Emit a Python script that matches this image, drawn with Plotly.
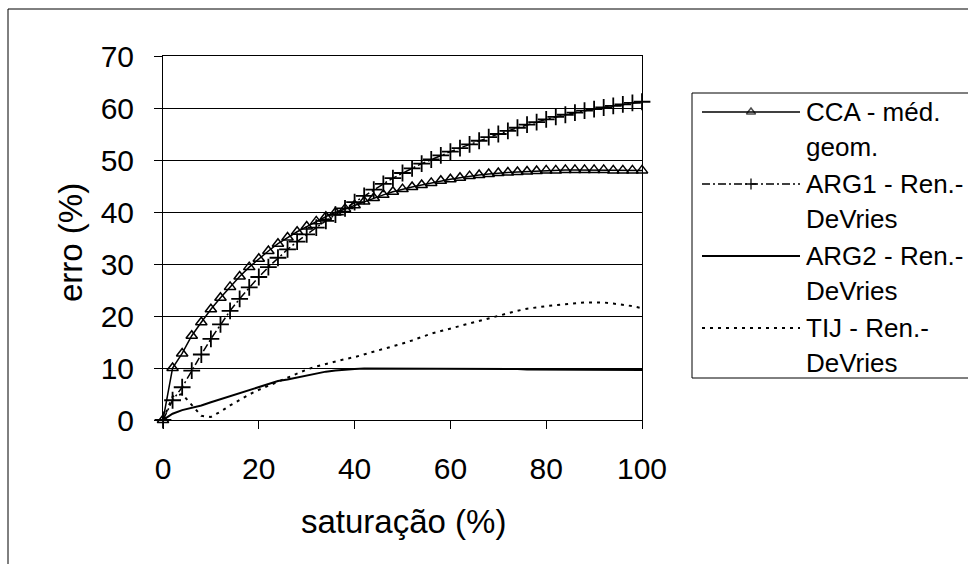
import plotly.graph_objects as go

# Saturation (%) sampled every 2 %
saturacao = list(range(0, 101, 2))

cca_med_geom = [
    0.0, 10.0, 12.8, 16.2, 18.8, 21.3, 23.5, 25.6, 27.6, 29.4,
    31.0, 32.5, 33.9, 35.1, 36.2, 37.2, 38.2, 39.1, 39.9, 40.6,
    41.3, 42.0, 42.7, 43.3, 43.9, 44.4, 44.8, 45.2, 45.6, 46.0,
    46.3, 46.6, 46.9, 47.1, 47.3, 47.5, 47.6, 47.7, 47.8, 47.9,
    48.0, 48.0, 48.1, 48.1, 48.1, 48.1, 48.1, 48.0, 48.0, 48.0,
    48.0,
]
arg1_devries = [
    0.0, 3.8, 6.3, 9.5, 12.6, 15.6, 18.4, 21.0, 23.3, 25.5,
    27.5, 29.4, 31.2, 32.8, 34.3, 35.7, 37.0, 38.3, 39.5, 40.7,
    41.9, 43.1, 44.3, 45.4, 46.5, 47.5, 48.4, 49.3, 50.1, 50.9,
    51.6, 52.3, 53.0, 53.7, 54.4, 55.0, 55.6, 56.2, 56.8, 57.3,
    57.8, 58.3, 58.7, 59.1, 59.5, 59.8, 60.1, 60.4, 60.7, 61.0,
    61.2,
]
arg2_devries = [
    0.0, 1.2, 1.9, 2.3, 2.8, 3.4, 4.0, 4.6, 5.2, 5.8,
    6.4, 7.0, 7.5, 7.8, 8.2, 8.6, 9.0, 9.3, 9.5, 9.7,
    9.8, 9.9, 9.9, 9.9, 9.9, 9.9, 9.9, 9.9, 9.9, 9.9,
    9.9, 9.9, 9.9, 9.9, 9.9, 9.9, 9.8, 9.8, 9.7, 9.7,
    9.7, 9.7, 9.7, 9.7, 9.7, 9.7, 9.7, 9.6, 9.6, 9.6,
    9.6,
]
tij_devries = [
    0.0, 4.5, 5.0, 2.8, 0.8, 0.6, 1.6, 2.8, 3.9, 4.9,
    5.8, 6.6, 7.4, 8.2, 9.0, 9.7, 10.3, 10.8, 11.2, 11.7,
    12.1, 12.6, 13.1, 13.6, 14.1, 14.7, 15.3, 16.0, 16.6, 17.1,
    17.6, 18.1, 18.6, 19.1, 19.6, 20.1, 20.6, 21.0, 21.4, 21.7,
    21.9, 22.1, 22.3, 22.5, 22.6, 22.6, 22.6, 22.4, 22.2, 21.9,
    21.5,
]

legend_labels = [
    ["CCA - méd.", "geom."],
    ["ARG1 - Ren.-", "DeVries"],
    ["ARG2 - Ren.-", "DeVries"],
    ["TIJ - Ren.-", "DeVries"],
]
x_ticks = [0, 20, 40, 60, 80, 100]
y_ticks = [0, 10, 20, 30, 40, 50, 60, 70]

# ---- canvas geometry (pixels) ----
W, H = 968, 564
PX0, PX1 = 163, 642      # plot area left/right
PY0, PY1 = 56, 420       # plot area top/bottom
FONT = "Liberation Sans, Arial, sans-serif"
INK = "black"
CLEAR = "rgba(0,0,0,0)"


def fx(px):
    return px / W


def fy(py):
    return 1 - py / H


styles = [
    dict(line=dict(color=INK, width=1.5, dash="solid"),
         marker=dict(symbol="triangle-up-open", size=10, color=INK, line=dict(width=1.5, color=INK))),
    dict(line=dict(color=INK, width=1.5, dash="8px,3px,2px,3px"),
         marker=dict(symbol="cross-thin-open", size=12, color=INK, line=dict(width=1.8, color=INK))),
    dict(line=dict(color=INK, width=2, dash="solid"), marker=None),
    dict(line=dict(color=INK, width=2, dash="3px,5px"), marker=None),
]
series = [cca_med_geom, arg1_devries, arg2_devries, tij_devries]

fig = go.Figure()

for vals, st in zip(series, styles):
    fig.add_trace(go.Scatter(
        x=saturacao, y=vals,
        mode="lines+markers" if st["marker"] else "lines",
        line=st["line"],
        marker=st["marker"],
        cliponaxis=False,
        showlegend=False,
        xaxis="x", yaxis="y",
    ))

# ---- hand-built legend (keys drawn on a pixel-space overlay axis) ----
LEG_L, LEG_T, LEG_B = 692, 93, 378
KEY_X0, KEY_X1, TEXT_X = 702, 800, 804
row_first, row_gap, item_gap = 112, 35, 37
annotations = []
for i, (labels, st) in enumerate(zip(legend_labels, styles)):
    y_row = row_first + i * (row_gap + item_gap)
    kx = [KEY_X0, (KEY_X0 + KEY_X1) / 2, KEY_X1]
    ky = [y_row] * 3
    mk = None
    mode = "lines"
    if st["marker"]:
        mk = dict(st["marker"])
        mk["size"] = [0, 8, 0]
        mode = "lines+markers"
    fig.add_trace(go.Scatter(
        x=kx, y=ky, mode=mode, line=st["line"], marker=mk,
        showlegend=False, hoverinfo="skip", xaxis="x2", yaxis="y2",
        cliponaxis=False,
    ))
    for j, txt in enumerate(labels):
        annotations.append(dict(
            x=fx(TEXT_X), y=fy(y_row + j * row_gap), xref="paper", yref="paper",
            text=txt, showarrow=False, xanchor="left", yanchor="middle",
            font=dict(family=FONT, size=26, color=INK),
        ))

# axis titles
annotations.append(dict(
    x=fx(70), y=fy(243), xref="paper", yref="paper", text="erro (%)",
    textangle=-90, showarrow=False, xanchor="center", yanchor="middle",
    font=dict(family=FONT, size=33, color=INK),
))
annotations.append(dict(
    x=fx(403), y=fy(521), xref="paper", yref="paper", text="saturação (%)",
    showarrow=False, xanchor="center", yanchor="middle",
    font=dict(family=FONT, size=33, color=INK),
))

shapes = [
    # outer chart frame
    dict(type="rect", xref="paper", yref="paper",
         x0=fx(8), x1=fx(W + 10), y0=fy(H + 10), y1=fy(9),
         line=dict(color=INK, width=1), fillcolor=CLEAR, layer="below"),
    # legend frame
    dict(type="rect", xref="paper", yref="paper",
         x0=fx(LEG_L), x1=fx(W + 10), y0=fy(LEG_B), y1=fy(LEG_T),
         line=dict(color=INK, width=1), fillcolor=CLEAR),
]

axis_common = dict(
    showline=True, linecolor=INK, linewidth=1, mirror=True,
    ticks="outside", ticklen=8, tickwidth=1, tickcolor=INK,
    tickfont=dict(family=FONT, size=30, color=INK),
    zeroline=False, automargin=False,
)

fig.update_layout(
    width=W, height=H,
    margin=dict(l=0, r=0, t=0, b=0, pad=0, autoexpand=False),
    paper_bgcolor="white", plot_bgcolor=CLEAR,
    showlegend=False,
    xaxis=dict(
        domain=[fx(PX0), fx(PX1)], range=[0, 100],
        tickmode="array", tickvals=x_ticks, ticktext=[str(v) for v in x_ticks],
        showgrid=False, ticklabelstandoff=14, **axis_common,
    ),
    yaxis=dict(
        domain=[fy(PY1), fy(PY0)], range=[0, 70],
        tickmode="array", tickvals=y_ticks, ticktext=[str(v) for v in y_ticks],
        showgrid=True, gridcolor=INK, gridwidth=1, ticklabelstandoff=14,
        **axis_common,
    ),
    xaxis2=dict(domain=[0, 1], range=[0, W], visible=False, anchor="y2",
                fixedrange=True, automargin=False),
    yaxis2=dict(domain=[0, 1], range=[H, 0], visible=False, anchor="x2",
                fixedrange=True, automargin=False),
    annotations=annotations,
    shapes=shapes,
)

fig.write_html("out.html")
